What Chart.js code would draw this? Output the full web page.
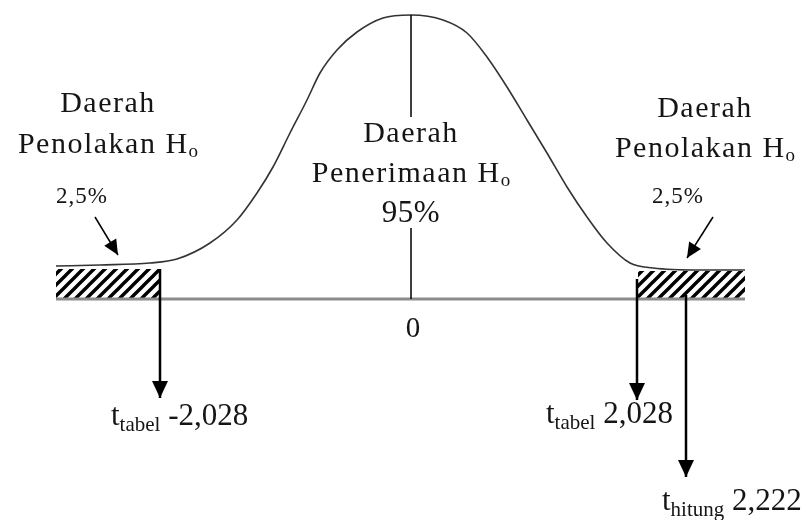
<!DOCTYPE html>
<html>
<head>
<meta charset="utf-8">
<script src="https://cdn.jsdelivr.net/npm/chart.js@4/dist/chart.umd.min.js"></script>
<style>
  html, body { margin: 0; padding: 0; background: #fff; }
  canvas { display: block; }
</style>
</head>
<body>
<canvas id="curveChart" width="805" height="520"></canvas>
<script>
// x: offset from the mean, y: height above the axis
const curveX = [-355, -311, -261, -234, -201, -174, -154, -138, -121, -104, -91, -74, -54, -28, 0,
                32, 56, 76, 96, 116, 136, 156, 176, 196, 219, 242, 289, 334];
const curveY = [33, 34, 36, 40, 56, 79, 106, 132, 166, 199, 226, 249, 267, 281, 284,
                279, 266, 242, 212, 179, 146, 112, 82, 56, 36, 31, 29, 29];

const axisX = [-355, 334];
const leftTailX = [-355, -250];
const leftTailY = [30, 30];
const rightTailX = [227, 334];
const rightTailY = [28, 28];

const meanUpperY = [284, 182];
const meanLowerY = [71, 0];

// critical t values and the computed t (arrows down from the axis)
const tTabelX = [-251, 226];
const tTabelTopY = [30, 20];
const tTabelTipY = [-99, -101];
const tHitungX = 275;
const tHitungY = [4, -178];

// small arrows pointing at the 2,5% tails
const pctArrowX = [[-316, -293], [302, 276]];
const pctArrowY = [[82, 44], [82, 41]];

// label texts
const tailTitle = ['Daerah', 'Penolakan H'];
const midTitle = ['Daerah', 'Penerimaan H'];
const tailPct = '2,5%';
const midPct = '95%';
const meanTick = '0';
const tTabelText = ['-2,028', '2,028'];
const tHitungText = '2,222';

function pts(xs, ys) {
  return xs.map((x, i) => ({ x: x, y: ys[i] }));
}

function seg(xs, ys, extra) {
  return Object.assign({
    data: pts(xs, ys),
    showLine: true,
    pointRadius: 0,
    borderColor: '#000',
    borderWidth: 1.5,
    fill: false,
    clip: false
  }, extra || {});
}

// diagonal hatching for the rejection tails
const tile = document.createElement('canvas');
tile.width = 11;
tile.height = 11;
const tc = tile.getContext('2d');
tc.strokeStyle = '#000';
tc.lineWidth = 3.4;
tc.beginPath();
tc.moveTo(-2, 13); tc.lineTo(13, -2);
tc.moveTo(-2, 2); tc.lineTo(2, -2);
tc.moveTo(9, 13); tc.lineTo(13, 9);
tc.stroke();
const hatch = document.getElementById('curveChart').getContext('2d').createPattern(tile, 'repeat');

const datasets = [
  seg(leftTailX, leftTailY, { fill: 'origin', backgroundColor: hatch, borderWidth: 0, order: 5 }),
  seg(rightTailX, rightTailY, { fill: 'origin', backgroundColor: hatch, borderWidth: 0, order: 5 }),
  seg(axisX, [0, 0], { borderColor: '#8c8c8c', borderWidth: 3, order: 4 }),
  seg(curveX, curveY, { borderColor: '#333', borderWidth: 1.6, cubicInterpolationMode: 'monotone', order: 3 }),
  seg([0, 0], meanUpperY, { order: 2 }),
  seg([0, 0], meanLowerY, { order: 2 }),
  seg([tTabelX[0], tTabelX[0]], [tTabelTopY[0], tTabelTipY[0]], { borderWidth: 2.5, arrowHead: [17, 8], order: 1 }),
  seg([tTabelX[1], tTabelX[1]], [tTabelTopY[1], tTabelTipY[1]], { borderWidth: 2.5, arrowHead: [17, 8], order: 1 }),
  seg([tHitungX, tHitungX], tHitungY, { borderWidth: 2.5, arrowHead: [17, 8], order: 1 }),
  seg(pctArrowX[0], pctArrowY[0], { borderWidth: 1.5, arrowHead: [15, 7], order: 1 }),
  seg(pctArrowX[1], pctArrowY[1], { borderWidth: 1.5, arrowHead: [15, 7], order: 1 })
];

const serif = '"Liberation Serif", "Times New Roman", serif';

function drawParts(ctx, parts, x, y, align) {
  let total = 0;
  parts.forEach(p => {
    ctx.font = p.size + 'px ' + serif;
    ctx.letterSpacing = (p.ls || 0) + 'px';
    p.w = ctx.measureText(p.t).width;
    total += p.w;
  });
  let cx = align === 'center' ? x - total / 2 : x;
  parts.forEach(p => {
    ctx.font = p.size + 'px ' + serif;
    ctx.letterSpacing = (p.ls || 0) + 'px';
    ctx.fillText(p.t, cx, y + (p.dy || 0));
    cx += p.w;
  });
  ctx.letterSpacing = '0px';
}

const arrowPlugin = {
  id: 'arrowHeads',
  afterDatasetsDraw(chart) {
    const ctx = chart.ctx;
    chart.data.datasets.forEach((ds, i) => {
      if (!ds.arrowHead) return;
      const el = chart.getDatasetMeta(i).data;
      const a = el[el.length - 2], b = el[el.length - 1];
      const ang = Math.atan2(b.y - a.y, b.x - a.x);
      const len = ds.arrowHead[0], half = ds.arrowHead[1];
      ctx.save();
      ctx.translate(b.x, b.y);
      ctx.rotate(ang);
      ctx.fillStyle = '#000';
      ctx.beginPath();
      ctx.moveTo(0, 0);
      ctx.lineTo(-len, -half);
      ctx.lineTo(-len, half);
      ctx.closePath();
      ctx.fill();
      ctx.restore();
    });
  }
};

const labelPlugin = {
  id: 'labels',
  afterDraw(chart) {
    const ctx = chart.ctx;
    const sx = v => chart.scales.x.getPixelForValue(v);
    const sy = v => chart.scales.y.getPixelForValue(v);
    ctx.save();
    ctx.fillStyle = '#151515';
    ctx.textBaseline = 'alphabetic';
    ctx.textAlign = 'left';
    const big = 30, ls = 1.5;
    const sub = () => ({ t: 'o', size: 19, dy: 4 });

    // left tail
    drawParts(ctx, [{ t: tailTitle[0], size: big, ls: ls }], sx(-303), sy(187), 'center');
    drawParts(ctx, [{ t: tailTitle[1], size: big, ls: ls }, sub()], sx(-303), sy(146), 'center');
    drawParts(ctx, [{ t: tailPct, size: 23, ls: 1 }], sx(-329), sy(96), 'center');
    // right tail
    drawParts(ctx, [{ t: tailTitle[0], size: big, ls: ls }], sx(294), sy(182), 'center');
    drawParts(ctx, [{ t: tailTitle[1], size: big, ls: ls }, sub()], sx(294), sy(142), 'center');
    drawParts(ctx, [{ t: tailPct, size: 23, ls: 1 }], sx(267), sy(96), 'center');
    // acceptance region
    drawParts(ctx, [{ t: midTitle[0], size: big, ls: ls }], sx(0), sy(157), 'center');
    drawParts(ctx, [{ t: midTitle[1], size: big, ls: ls }, sub()], sx(0), sy(117), 'center');
    drawParts(ctx, [{ t: midPct, size: 31, ls: 0.5 }], sx(0), sy(77), 'center');
    drawParts(ctx, [{ t: meanTick, size: 29 }], sx(2), sy(-38), 'center');

    // t values
    drawParts(ctx, [{ t: 't', size: 31 }, { t: 'tabel', size: 21, dy: 6 }, { t: ' ' + tTabelText[0], size: 31 }], sx(-300), sy(-126), 'left');
    drawParts(ctx, [{ t: 't', size: 31 }, { t: 'tabel', size: 21, dy: 6 }, { t: ' ' + tTabelText[1], size: 31 }], sx(135), sy(-124), 'left');
    drawParts(ctx, [{ t: 't', size: 31 }, { t: 'hitung', size: 21, dy: 6 }, { t: ' ' + tHitungText, size: 31 }], sx(251), sy(-211), 'left');
    ctx.restore();
  }
};

new Chart(document.getElementById('curveChart'), {
  type: 'scatter',
  data: { datasets: datasets },
  options: {
    responsive: false,
    animation: false,
    events: [],
    layout: { padding: 0 },
    plugins: { legend: { display: false }, tooltip: { enabled: false } },
    scales: {
      x: { type: 'linear', min: -411, max: 394, display: false },
      y: { type: 'linear', min: -221, max: 299, display: false }
    }
  },
  plugins: [arrowPlugin, labelPlugin]
});
</script>
</body>
</html>
